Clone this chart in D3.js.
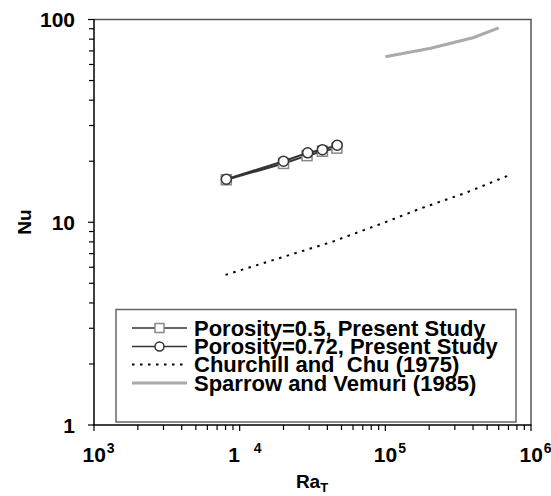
<!doctype html>
<html lang="en">
<head>
  <meta charset="utf-8">
  <title>Nu vs Ra</title>
  <script src="https://d3js.org/d3.v7.min.js"></script>
  <style>
    body { margin: 0; background: #fff; }
    text { font-family: "Liberation Sans", Arial, sans-serif; font-weight: bold; fill: #000; }
  </style>
</head>
<body>
<div id="chart"></div>
<script>
  // data
  var ra_p50 = [8100, 20000, 29000, 37000, 46500];
  var nu_p50 = [16.2, 19.5, 21.3, 22.4, 23.2];
  var ra_p72 = [8100, 20000, 29300, 37000, 46700];
  var nu_p72 = [16.3, 20.0, 22.0, 22.8, 24.0];
  var ra_cc = [8000, 20000, 43000, 100000, 175000, 350000, 700000];
  var nu_cc = [5.5, 6.75, 8.0, 10.0, 11.7, 13.9, 17.0];
  var ra_sv = [100000, 205000, 405000, 600000];
  var nu_sv = [65.5, 72.1, 81.5, 91.0];

  var legend_labels = ["Porosity=0.5, Present Study", "Porosity=0.72, Present Study",
                       "Churchill and  Chu (1975)", "Sparrow and Vemuri (1985)"];
  var x_tick_base = ["10", "1", "10", "10"];
  var x_tick_exp = ["3", "4", "5", "6"];
  var y_tick_labels = ["1", "10", "100"];

  var width = 551, height = 496;
  var p_left = 94, p_right = 531, p_top = 19.5, p_bottom = 425;

  var svg = d3.select('#chart').append('svg')
    .attr('width', width)
    .attr('height', height);

  var x = d3.scaleLog().domain([1e3, 1e6]).range([p_left, p_right]);
  var y = d3.scaleLog().domain([1, 100]).range([p_bottom, p_top]);

  // frame on top and right
  svg.append('path')
    .attr('d', 'M' + p_left + ',' + p_top + 'H' + p_right + 'V' + p_bottom)
    .attr('fill', 'none')
    .attr('stroke', '#555')
    .attr('stroke-width', 1.5);

  function is_major(v) { return Math.abs(Math.log10(v) - Math.round(Math.log10(v))) < 1e-9; }

  // axes
  var xa = svg.append('g').attr('transform', 'translate(0,' + p_bottom + ')');
  xa.append('line').attr('x1', p_left - 1).attr('x2', p_right + 0.5)
    .attr('stroke', '#000').attr('stroke-width', 1.5);
  xa.selectAll('.tk').data(x.ticks()).enter().append('line')
    .attr('x1', d => x(d)).attr('x2', d => x(d))
    .attr('y1', 0).attr('y2', d => is_major(d) ? 6 : 5)
    .attr('stroke', '#000').attr('stroke-width', 1.2);

  var ya = svg.append('g').attr('transform', 'translate(' + p_left + ',0)');
  ya.append('line').attr('y1', p_top - 0.5).attr('y2', p_bottom)
    .attr('stroke', '#000').attr('stroke-width', 1.5);
  ya.selectAll('.tk').data(y.ticks()).enter().append('line')
    .attr('y1', d => y(d)).attr('y2', d => y(d))
    .attr('x1', 0).attr('x2', d => is_major(d) ? -6 : -5)
    .attr('stroke', '#000').attr('stroke-width', 1.2);

  // tick labels
  var x_major = [1e3, 1e4, 1e5, 1e6];
  x_major.forEach(function(v, i) {
    var t = svg.append('text')
      .attr('x', x(v) - 11.5)
      .attr('y', 462)
      .style('font-size', '21px');
    t.append('tspan').text(x_tick_base[i]);
    t.append('tspan')
      .attr('dx', x_tick_base[i] == "1" ? 14 : 1)
      .attr('dy', -9)
      .style('font-size', '14px')
      .text(x_tick_exp[i]);
  });

  svg.selectAll('.ylab').data([1, 10, 100]).enter().append('text')
    .attr('x', 75)
    .attr('y', d => y(d))
    .attr('dy', '0.36em')
    .attr('text-anchor', 'end')
    .style('font-size', '21px')
    .text((d, i) => y_tick_labels[i]);

  // axis titles
  var xt = svg.append('text')
    .attr('x', 312)
    .attr('y', 488)
    .attr('text-anchor', 'middle')
    .style('font-size', '19px');
  xt.append('tspan').text('Ra');
  xt.append('tspan').attr('dy', 4).style('font-size', '13px').text('T');

  svg.append('text')
    .attr('transform', 'translate(31,222) rotate(-90)')
    .attr('text-anchor', 'middle')
    .style('font-size', '19px')
    .text('Nu');

  var line = d3.line().x(d => x(d[0])).y(d => y(d[1]));

  // Sparrow and Vemuri
  svg.append('path')
    .datum(d3.zip(ra_sv, nu_sv))
    .attr('d', line)
    .attr('fill', 'none')
    .attr('stroke', '#aaa')
    .attr('stroke-width', 3);

  // Churchill and Chu
  svg.append('path')
    .datum(d3.zip(ra_cc, nu_cc))
    .attr('d', line)
    .attr('fill', 'none')
    .attr('stroke', '#000')
    .attr('stroke-width', 2)
    .attr('stroke-dasharray', '2.5,5.5');

  // porosity 0.5 squares
  var p50 = d3.zip(ra_p50, nu_p50);
  svg.append('path').datum(p50).attr('d', line)
    .attr('fill', 'none').attr('stroke', '#333').attr('stroke-width', 2);
  svg.selectAll('.sq').data(p50).enter().append('rect')
    .attr('x', d => x(d[0]) - 5).attr('y', d => y(d[1]) - 5)
    .attr('width', 10).attr('height', 10)
    .attr('fill', '#fff').attr('stroke', '#888').attr('stroke-width', 1.5);

  // porosity 0.72 circles
  var p72 = d3.zip(ra_p72, nu_p72);
  svg.append('path').datum(p72).attr('d', line)
    .attr('fill', 'none').attr('stroke', '#333').attr('stroke-width', 2);
  svg.selectAll('.ci').data(p72).enter().append('circle')
    .attr('cx', d => x(d[0])).attr('cy', d => y(d[1]))
    .attr('r', 5)
    .attr('fill', '#fff').attr('stroke', '#333').attr('stroke-width', 1.5);

  // legend
  var lg = svg.append('g');
  lg.append('rect')
    .attr('x', 116).attr('y', 309.5)
    .attr('width', 400).attr('height', 112.5)
    .attr('fill', '#fff').attr('stroke', '#666').attr('stroke-width', 1.5);

  var row_y = [328, 346.5, 364.5, 383];
  var lx1 = 132, lx2 = 187, lxm = 159.5;
  legend_labels.forEach(function(lab, i) {
    var ln = lg.append('line')
      .attr('x1', lx1).attr('x2', lx2)
      .attr('y1', row_y[i]).attr('y2', row_y[i]);
    if (i < 2) ln.attr('stroke', '#333').attr('stroke-width', 1.5);
    if (i == 2) ln.attr('stroke', '#000').attr('stroke-width', 2).attr('stroke-dasharray', '2.5,5.5');
    if (i == 3) ln.attr('stroke', '#aaa').attr('stroke-width', 3);
    if (i == 0) lg.append('rect').attr('x', lxm - 4.5).attr('y', row_y[i] - 4.5)
      .attr('width', 9).attr('height', 9)
      .attr('fill', '#fff').attr('stroke', '#888').attr('stroke-width', 1.5);
    if (i == 1) lg.append('circle').attr('cx', lxm).attr('cy', row_y[i]).attr('r', 4.5)
      .attr('fill', '#fff').attr('stroke', '#333').attr('stroke-width', 1.5);
    lg.append('text')
      .attr('x', 194)
      .attr('y', row_y[i])
      .attr('dy', '0.36em')
      .style('font-size', '22px')
      .style('white-space', 'pre')
      .text(lab);
  });
</script>
</body>
</html>
